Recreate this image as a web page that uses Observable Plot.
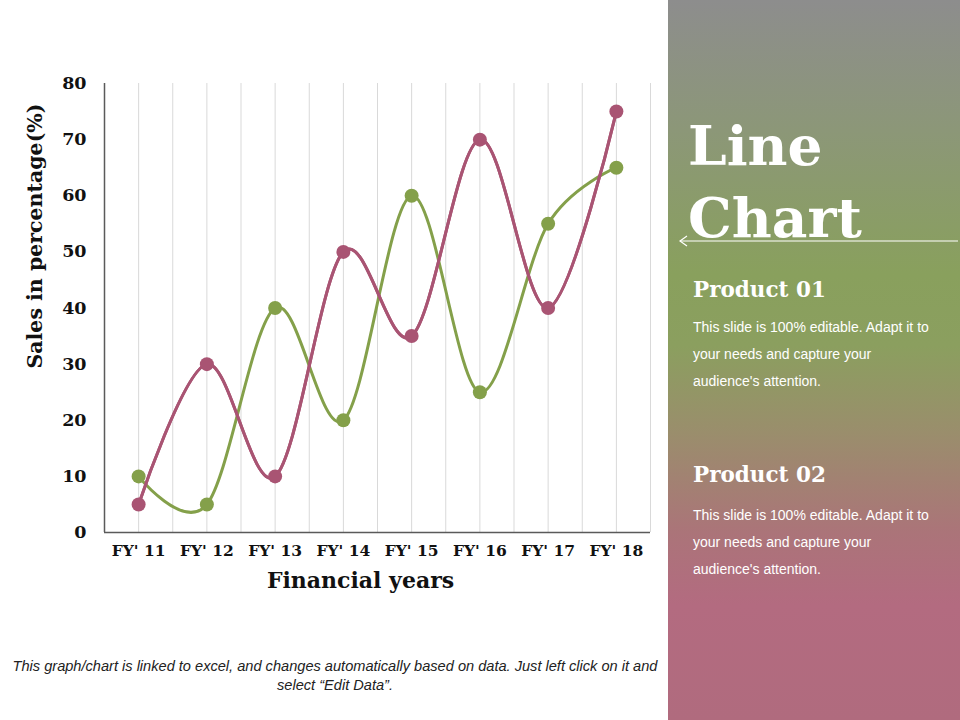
<!DOCTYPE html>
<html>
<head>
<meta charset="utf-8">
<script src="https://cdn.jsdelivr.net/npm/d3@7"></script>
<script src="https://cdn.jsdelivr.net/npm/@observablehq/plot@0.6"></script>
<style>
  html, body { margin: 0; padding: 0; background: #fff; }
  #page { position: relative; width: 960px; height: 720px; overflow: hidden; background: #fff; }
  #chart { position: absolute; left: 0; top: 0; }
  #panel {
    position: absolute; left: 668px; top: 0; width: 292px; height: 720px;
    background: linear-gradient(to bottom, #8d8d8d 0%, #8c9778 18%, #89a05d 38%, #8b9f5f 48%, #9a8e6c 60%, #ab7479 74%, #b36b80 84%, #b06b7e 100%);
    color: #fff;
  }
  #title {
    position: absolute; left: 20px; top: 110px; margin: 0;
    font-family: "DejaVu Serif", Georgia, serif; font-weight: bold; font-size: 55px; line-height: 72px;
  }
  #arrow { position: absolute; left: 10px; top: 234px; }
  .ph {
    position: absolute; left: 25px; margin: 0;
    font-family: "DejaVu Serif", Georgia, serif; font-weight: bold; font-size: 21.5px;
  }
  .pb {
    position: absolute; left: 25px; width: 242px; margin: 0;
    font-family: "Liberation Sans", Arial, sans-serif; font-size: 14px; line-height: 27px;
  }
  #caption {
    position: absolute; left: 0; width: 670px; top: 657px; text-align: center;
    font-family: "Liberation Sans", Arial, sans-serif; font-style: italic; font-size: 14.6px; line-height: 19px; color: #222;
  }
</style>
</head>
<body>
<div id="page">
  <div id="chart"></div>
  <div id="panel">
    <div id="title">Line<br>Chart</div>
    <svg id="arrow" width="282" height="14">
      <line x1="2" y1="7" x2="280" y2="7" stroke="#fff" stroke-width="1.2"/>
      <polyline points="9,2 2,7 9,12" fill="none" stroke="#fff" stroke-width="1.2"/>
    </svg>
    <div class="ph" style="top:277px">Product 01</div>
    <div class="pb" style="top:314px">This slide is 100% editable. Adapt it to your needs and capture your audience's attention.</div>
    <div class="ph" style="top:462px">Product 02</div>
    <div class="pb" style="top:502px">This slide is 100% editable. Adapt it to your needs and capture your audience's attention.</div>
  </div>
  <div id="caption">This graph/chart is linked to excel, and changes automatically based on data. Just left click on it and<br>select “Edit Data”.</div>
</div>
<script>
const years = ["FY' 11", "FY' 12", "FY' 13", "FY' 14", "FY' 15", "FY' 16", "FY' 17", "FY' 18"];
const product01 = [5, 30, 10, 50, 35, 70, 40, 75];
const product02 = [10, 5, 40, 20, 60, 25, 55, 65];
const yTicks = [0, 10, 20, 30, 40, 50, 60, 70, 80];
const seriesNames = ["Product 02", "Product 01"];
const seriesColors = ["#84a04a", "#a95473"];
const xTitle = "Financial years";
const yTitle = "Sales in percentage(%)";

const rows = [];
years.forEach((y, i) => rows.push({ idx: i + 1, year: y, value: product02[i], series: "Product 02" }));
years.forEach((y, i) => rows.push({ idx: i + 1, year: y, value: product01[i], series: "Product 01" }));

const gridPositions = d3.range(0.5, years.length + 0.51, 0.5);
const serifFont = "'DejaVu Serif', Georgia, serif";

const chart = Plot.plot({
  width: 668,
  height: 610,
  marginLeft: 104,
  marginRight: 18,
  marginTop: 83,
  marginBottom: 78,
  style: { background: "transparent", overflow: "visible", fontFamily: serifFont },
  x: { domain: [0.5, years.length + 0.5] },
  y: { domain: [0, 80] },
  color: { domain: seriesNames, range: seriesColors },
  marks: [
    Plot.gridX(gridPositions, { stroke: "#d9d9d9", strokeOpacity: 1, strokeWidth: 1 }),
    Plot.ruleY([0], { stroke: "#5a5a5a", strokeWidth: 1.5 }),
    Plot.ruleX([0.5], { stroke: "#5a5a5a", strokeWidth: 1.5 }),
    Plot.axisY(yTicks, {
      tickSize: 0, tickPadding: 18, label: null,
      fontSize: 17.5, fontWeight: "bold", fill: "#111", fontFamily: serifFont
    }),
    Plot.axisX(d3.range(1, years.length + 1), {
      tickSize: 0, tickPadding: 12, label: null,
      tickFormat: i => years[i - 1],
      fontSize: 15.5, fontWeight: "bold", fill: "#111", fontFamily: serifFont
    }),
    Plot.line(rows, {
      x: "idx", y: "value", z: "series", stroke: "series",
      curve: "cardinal", strokeWidth: 3
    }),
    Plot.dot(rows.filter(d => d.series === "Product 02"), { x: "idx", y: "value", fill: "series", r: 7 }),
    Plot.line(rows.filter(d => d.series === "Product 01"), {
      x: "idx", y: "value", stroke: "series",
      curve: "cardinal", strokeWidth: 3
    }),
    Plot.dot(rows.filter(d => d.series === "Product 01"), { x: "idx", y: "value", fill: "series", r: 7 }),
    Plot.text([xTitle], {
      frameAnchor: "bottom", dx: -17, dy: 55, text: d => d,
      fontSize: 22, fontWeight: "bold", fill: "#111", fontFamily: serifFont
    }),
    Plot.text([yTitle], {
      frameAnchor: "left", textAnchor: "middle", dx: -69, dy: -72, rotate: -90, text: d => d,
      fontSize: 20.5, fontWeight: "bold", fill: "#111", fontFamily: serifFont
    })
  ]
});
document.getElementById("chart").appendChild(chart);
</script>
</body>
</html>
